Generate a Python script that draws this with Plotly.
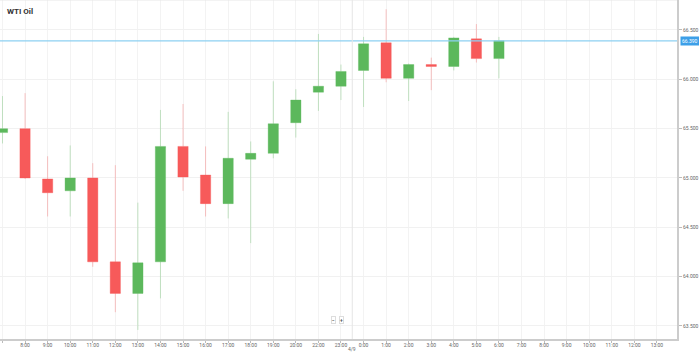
import plotly.graph_objects as go

# ---- data ----
hours = ["7:00", "8:00", "9:00", "10:00", "11:00", "12:00", "13:00", "14:00", "15:00",
         "16:00", "17:00", "18:00", "19:00", "20:00", "22:00", "23:00", "0:00", "1:00",
         "2:00", "3:00", "4:00", "5:00", "6:00", "7:00", "8:00", "9:00", "10:00",
         "11:00", "12:00", "13:00"]
opens = [65.46, 65.50, 64.99, 64.87, 65.00, 64.15, 63.83, 64.15, 65.32, 65.03, 64.74, 65.19,
         65.25, 65.56, 65.87, 65.93, 66.09, 66.37, 66.01, 66.15, 66.13, 66.41, 66.21]
highs = [65.83, 65.86, 65.22, 65.33, 65.15, 65.13, 64.75, 65.69, 65.75, 65.32, 65.67, 65.37,
         65.98, 65.90, 66.46, 66.15, 66.43, 66.71, 66.16, 66.22, 66.43, 66.56, 66.43]
lows = [65.35, 64.99, 64.61, 64.61, 64.10, 63.64, 63.46, 63.78, 64.87, 64.61, 64.59, 64.34,
        65.20, 65.41, 65.68, 65.79, 65.72, 65.97, 65.78, 65.89, 66.09, 66.17, 66.01]
closes = [65.50, 65.00, 64.85, 65.00, 64.15, 63.83, 64.14, 65.32, 65.01, 64.74, 65.20, 65.25,
          65.55, 65.79, 65.93, 66.08, 66.36, 66.01, 66.15, 66.13, 66.42, 66.21, 66.39]
y_ticks = [63.5, 64.0, 64.5, 65.0, 65.5, 66.0, 66.5]
title = "WTI Oil"
date_label = "4/9"

GREEN = "#5cb85c"
RED = "#f75a5a"

idx = list(range(len(opens)))
tick_idx = list(range(len(hours)))
last = closes[-1]

fig = go.Figure()
fig.add_trace(go.Candlestick(
    x=idx, open=opens, high=highs, low=lows, close=closes,
    increasing=dict(fillcolor=GREEN, line=dict(color="rgba(92,184,92,0.35)", width=1)),
    decreasing=dict(fillcolor=RED, line=dict(color="rgba(247,90,90,0.35)", width=1)),
    whiskerwidth=0, showlegend=False, hoverinfo="skip",
))

# current price line
fig.add_shape(type="line", xref="paper", x0=0, x1=1, yref="y", y0=last, y1=last,
              line=dict(color="#8dd0f2", width=1.2))
# day separator
fig.add_shape(type="line", xref="x", x0=15.5, x1=15.5, yref="paper", y0=0, y1=1,
              line=dict(color="#e6e6e6", width=1))
# top border
fig.add_shape(type="line", xref="paper", x0=0, x1=1, yref="paper", y0=1, y1=1,
              line=dict(color="#e8e8e8", width=1))

fig.add_annotation(xref="paper", yref="y", x=1, y=last, xanchor="left", xshift=3,
                   text=f"{last:.3f}", showarrow=False, bgcolor="#3d9fe8",
                   font=dict(size=5, color="white", family="Roboto"), borderpad=1)
fig.add_annotation(xref="paper", yref="paper", x=0.008, y=0.985, xanchor="left", yanchor="top",
                   text=f"<b>{title}</b>", showarrow=False,
                   font=dict(size=8, color="#333333", family="Roboto"))
fig.add_annotation(xref="x", yref="paper", x=15.5, y=0, yanchor="middle", yshift=-9.5,
                   text=date_label, showarrow=False, borderpad=0,
                   font=dict(size=5, color="#666666", family="Roboto"))
for px, sym in [(335, "−"), (344, "+")]:
    fig.add_annotation(xref="paper", yref="paper", x=px / 681, y=(339 - 324) / 339,
                       text=f"<b>{sym}</b>", showarrow=False, bgcolor="white",
                       bordercolor="#dddddd", borderwidth=1, borderpad=0,
                       font=dict(size=5, color="#555555", family="Roboto"))

fig.update_layout(
    width=699, height=352,
    margin=dict(l=0, r=18, t=0, b=13),
    paper_bgcolor="white", plot_bgcolor="white",
    boxgap=0.35,
    font=dict(family="Roboto", size=5, color="#666666"),
    xaxis=dict(
        range=[-0.11, 29.89], tickvals=tick_idx, ticktext=hours,
        showgrid=True, gridcolor="#f3f3f3", gridwidth=1,
        showline=True, linecolor="#cccccc", linewidth=1.5,
        ticks="outside", ticklen=2, tickcolor="#bbbbbb",
        ticklabelstandoff=-2,
        tickfont=dict(size=5, color="#666666"),
        rangeslider=dict(visible=False), zeroline=False, fixedrange=True,
    ),
    yaxis=dict(
        side="right", range=[63.368, 66.804], tickvals=y_ticks, tickformat=".3f",
        showgrid=True, gridcolor="#f1f1f1", gridwidth=1,
        showline=True, linecolor="#cccccc", linewidth=2,
        ticks="outside", ticklen=3, tickcolor="#bbbbbb",
        tickfont=dict(size=5, color="#666666"), zeroline=False, fixedrange=True,
    ),
)

fig.write_html("out.html", config={"displayModeBar": False})
